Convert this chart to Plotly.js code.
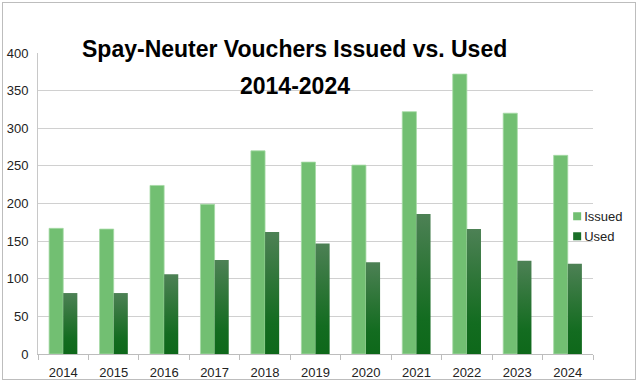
<!DOCTYPE html>
<html>
<head>
<meta charset="utf-8">
<script src="https://cdn.plot.ly/plotly-3.0.1.min.js"></script>
<style>
html,body{margin:0;padding:0;background:#fff;}
#frame{position:absolute;left:2px;top:2px;width:634px;height:378px;border:1px solid #bdbdbd;box-sizing:border-box;pointer-events:none;}
#chart{position:absolute;left:0;top:0;width:640px;height:384px;}
</style>
</head>
<body>
<div id="chart"></div>
<div id="frame"></div>
<script>
const years = ['2014','2015','2016','2017','2018','2019','2020','2021','2022','2023','2024'];
const issued = [167, 166, 224, 199, 270, 255, 251, 322, 372, 320, 264];
const used = [81, 81, 106, 125, 162, 147, 122, 186, 166, 124, 120];
const seriesNames = ['Issued', 'Used'];
const yTicks = [0, 50, 100, 150, 200, 250, 300, 350, 400];
const titleLines = ['Spay-Neuter Vouchers Issued vs. Used', '2014-2024'];

const traces = [
  {type:'bar', name:seriesNames[0], x:years, y:issued, legendgroup:'a',
   marker:{color:'#72bf72', line:{width:0.8, color:'#a6dba6'}}, hoverinfo:'x+y'},
  {type:'bar', name:seriesNames[1], x:years, y:used, legendgroup:'b',
   marker:{color:'#1a6e28', line:{width:0}}, hoverinfo:'x+y'}
];

const titleFont = {family:'Liberation Sans, Arial, sans-serif', size:23, color:'#000'};

const layout = {
  width:640, height:384,
  margin:{l:38, r:47, t:53, b:30, pad:0, autoexpand:false},
  paper_bgcolor:'rgba(0,0,0,0)', plot_bgcolor:'rgba(0,0,0,0)',
  font:{family:'Liberation Sans, Arial, sans-serif', size:13, color:'#222'},
  annotations:[
    {text:'<b>'+titleLines[0]+'</b>', xref:'paper', yref:'paper', x:0.463, y:1.013,
     xanchor:'center', yanchor:'middle', showarrow:false, font:titleFont},
    {text:'<b>'+titleLines[1]+'</b>', xref:'paper', yref:'paper', x:0.463, y:0.892,
     xanchor:'center', yanchor:'middle', showarrow:false, font:titleFont}
  ],
  barmode:'group', bargap:0.44, bargroupgap:0,
  showlegend:true,
  legend:{x:0.912, xanchor:'left', y:0.424, yanchor:'middle', bgcolor:'rgba(0,0,0,0)',
          font:{size:13, color:'#222'}, itemwidth:30, tracegroupgap:7, traceorder:'normal'},
  xaxis:{type:'category', tickson:'boundaries', ticks:'outside', ticklen:5, tickcolor:'#bdbdbd',
         showline:true, linecolor:'#bdbdbd', linewidth:1, showgrid:false,
         tickfont:{size:13, color:'#222'}, ticklabelstandoff:6},
  yaxis:{range:[0,400], tickvals:yTicks, ticktext:yTicks.map(String), showgrid:true, gridcolor:'#d0d0d0', gridwidth:1,
         showline:true, linecolor:'#c8c8c8', linewidth:1, ticks:'', zeroline:false,
         tickfont:{size:13, color:'#222'}, ticklabelstandoff:6}
};

Plotly.newPlot('chart', traces, layout, {displayModeBar:false, staticPlot:true}).then(function(gd){
  const svg = gd.querySelector('svg.main-svg');
  const ns = 'http://www.w3.org/2000/svg';
  let defs = svg.querySelector('defs');
  if(!defs){defs = document.createElementNS(ns,'defs'); svg.insertBefore(defs, svg.firstChild);}
  const g = document.createElementNS(ns,'linearGradient');
  g.setAttribute('id','usedGrad');
  g.setAttribute('x1','0'); g.setAttribute('y1','0'); g.setAttribute('x2','0'); g.setAttribute('y2','1');
  [['0%','#4d8155'],['45%','#2a7434'],['75%','#136c20'],['100%','#0e681a']].forEach(function(s){
    const st = document.createElementNS(ns,'stop');
    st.setAttribute('offset', s[0]); st.setAttribute('stop-color', s[1]);
    g.appendChild(st);
  });
  defs.appendChild(g);
  const groups = gd.querySelectorAll('.barlayer .trace');
  if(groups.length > 1){
    groups[1].querySelectorAll('path').forEach(function(p){ p.style.fill = 'url(#usedGrad)'; });
  }
  // smaller legend swatches placed close to the text
  gd.querySelectorAll('.legend .legendpoints').forEach(function(lp){
    lp.setAttribute('transform','translate(13,0)');
    lp.querySelectorAll('path').forEach(function(p){ p.setAttribute('d','M4,4H-4V-4H4Z'); p.style.strokeWidth = '0'; });
  });
});
</script>
</body>
</html>
